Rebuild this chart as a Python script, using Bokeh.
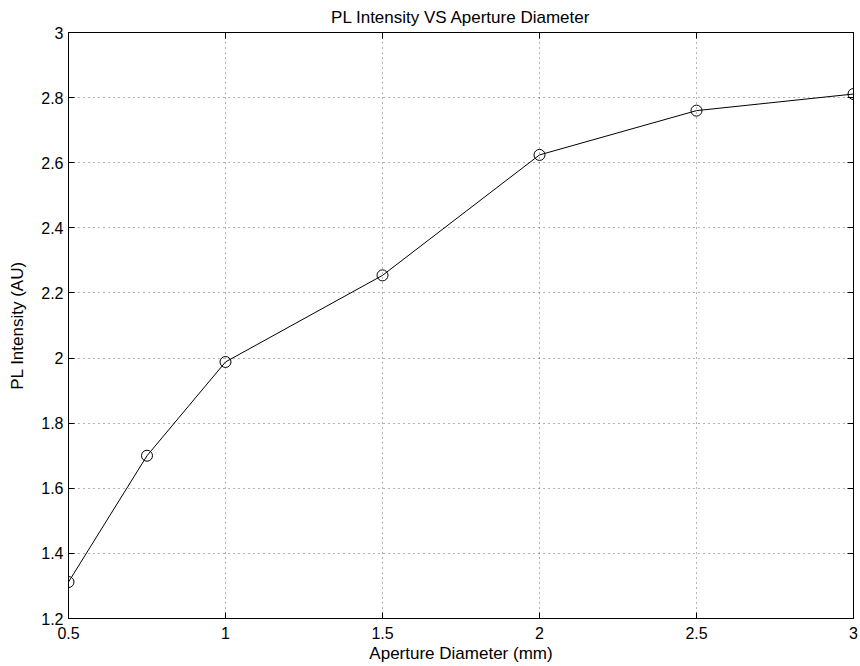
from bokeh.plotting import figure
from bokeh.models import LinearAxis, FixedTicker, Range1d, CustomJSTickFormatter
from bokeh.embed import file_html
from bokeh.resources import INLINE

aperture_mm = [0.5, 0.75, 1.0, 1.5, 2.0, 2.5, 3.0]
pl_intensity = [1.312, 1.700, 1.988, 2.254, 2.624, 2.760, 2.811]
x_ticks = [0.5, 1, 1.5, 2, 2.5, 3]
y_ticks = [1.2, 1.4, 1.6, 1.8, 2.0, 2.2, 2.4, 2.6, 2.8, 3.0]

FONT = "Liberation Sans"

p = figure(output_backend="svg", toolbar_location=None,
           frame_width=785, frame_height=586,
           x_range=Range1d(0.5, 3), y_range=Range1d(1.2, 3),
           min_border_left=68, min_border_top=32, min_border_right=7, min_border_bottom=48,
           title="PL Intensity VS Aperture Diameter")
p.title.align = "center"
p.title.text_font = FONT
p.title.text_font_style = "normal"
p.title.text_font_size = "17px"
p.title.text_color = "black"
p.title.standoff = 11
p.outline_line_color = "black"
p.outline_line_width = 1

xt = FixedTicker(ticks=x_ticks, minor_ticks=[])
yt = FixedTicker(ticks=y_ticks, minor_ticks=[])

for ax in p.xaxis:
    ax.ticker = xt
    ax.axis_label = "Aperture Diameter (mm)"
    ax.major_label_standoff = 8
    ax.axis_label_standoff = 2
for ax in p.yaxis:
    ax.ticker = yt
    ax.axis_label = "PL Intensity (AU)"
    ax.major_label_standoff = 5
    ax.axis_label_standoff = 11

for ax in p.xaxis + p.yaxis:
    ax.major_tick_in = 6
    ax.major_tick_out = 0
    ax.minor_tick_in = 0
    ax.minor_tick_out = 0
    ax.axis_line_color = "black"
    ax.major_tick_line_color = "black"
    ax.major_label_text_font = FONT
    ax.major_label_text_font_size = "16px"
    ax.major_label_text_color = "black"
    ax.axis_label_text_font = FONT
    ax.axis_label_text_font_size = "17px"
    ax.axis_label_text_font_style = "normal"
    ax.axis_label_text_color = "black"

p.yaxis.major_label_orientation = "horizontal"

blank = CustomJSTickFormatter(code="return ''")
top = LinearAxis(ticker=xt, formatter=blank, major_tick_in=6, major_tick_out=0,
                 minor_tick_in=0, minor_tick_out=0, major_label_standoff=0,
                 axis_line_color="black")
right = LinearAxis(ticker=yt, formatter=blank, major_tick_in=6, major_tick_out=0,
                   minor_tick_in=0, minor_tick_out=0, major_label_standoff=0,
                   axis_line_color="black")
p.add_layout(top, "above")
p.add_layout(right, "right")

for g in p.grid:
    g.grid_line_color = "black"
    g.grid_line_alpha = 0.6
    g.grid_line_dash = "1 4"
    g.grid_line_width = 1
p.xgrid.ticker = xt
p.ygrid.ticker = yt

p.line(aperture_mm, pl_intensity, line_color="black", line_width=1)
p.scatter(aperture_mm, pl_intensity, marker="circle", size=11,
          fill_color=None, line_color="black", line_width=1)

open("out.html", "w").write(file_html(p, INLINE))
